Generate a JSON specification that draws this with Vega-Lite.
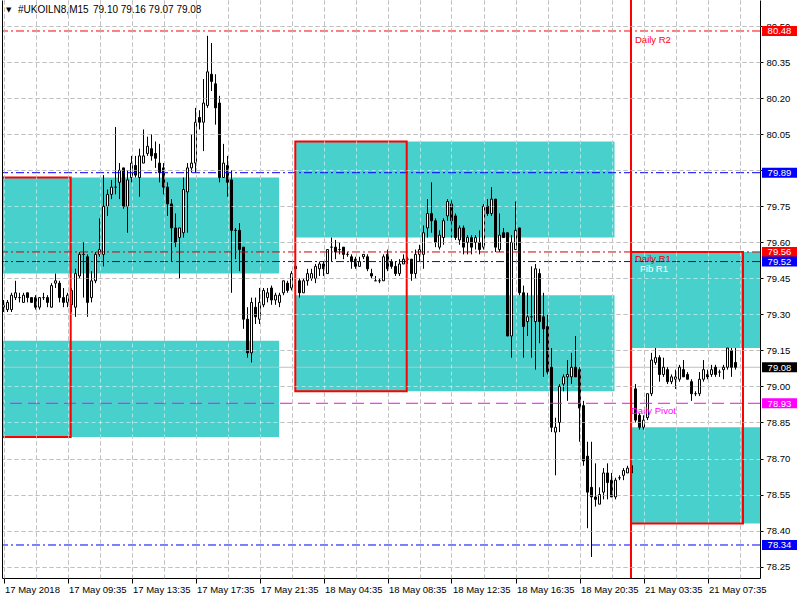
{
"$schema": "https://vega.github.io/schema/vega-lite/v6.json",
"width": 758, "height": 578,
"padding": {"left": 2, "top": 0, "right": 40, "bottom": 22},
"autosize": {"type": "none"},
"background": "white",
"config": {"view": {"stroke": null}, "font": "Liberation Sans", "text": {"font": "Liberation Sans", "fontSize": 9.5}},
"datasets": {
"bars": [
{"i":0,"o":79.33,"h":79.36,"l":79.31,"c":79.34},{"i":1,"o":79.32,"h":79.36,"l":79.31,"c":79.35},{"i":2,"o":79.32,"h":79.39,"l":79.31,"c":79.38},{"i":3,"o":79.37,"h":79.44,"l":79.36,"c":79.39},{"i":4,"o":79.37,"h":79.39,"l":79.35,"c":79.37},{"i":5,"o":79.35,"h":79.39,"l":79.35,"c":79.38},{"i":6,"o":79.39,"h":79.39,"l":79.35,"c":79.37},{"i":7,"o":79.37,"h":79.37,"l":79.35,"c":79.35},{"i":8,"o":79.37,"h":79.38,"l":79.32,"c":79.33},{"i":9,"o":79.33,"h":79.37,"l":79.32,"c":79.37},
{"i":10,"o":79.37,"h":79.39,"l":79.36,"c":79.37},{"i":11,"o":79.37,"h":79.38,"l":79.33,"c":79.35},{"i":12,"o":79.33,"h":79.43,"l":79.33,"c":79.42},{"i":13,"o":79.43,"h":79.47,"l":79.41,"c":79.44},{"i":14,"o":79.43,"h":79.44,"l":79.35,"c":79.37},{"i":15,"o":79.37,"h":79.41,"l":79.33,"c":79.35},{"i":16,"o":79.35,"h":79.39,"l":79.33,"c":79.38},{"i":17,"o":79.34,"h":79.41,"l":79.31,"c":79.40},{"i":18,"o":79.33,"h":79.49,"l":79.29,"c":79.47},{"i":19,"o":79.46,"h":79.56,"l":79.45,"c":79.55},
{"i":20,"o":79.55,"h":79.60,"l":79.37,"c":79.55},{"i":21,"o":79.54,"h":79.55,"l":79.29,"c":79.35},{"i":22,"o":79.37,"h":79.48,"l":79.35,"c":79.44},{"i":23,"o":79.44,"h":79.56,"l":79.43,"c":79.55},{"i":24,"o":79.55,"h":79.70,"l":79.54,"c":79.57},{"i":25,"o":79.55,"h":79.88,"l":79.50,"c":79.75},{"i":26,"o":79.75,"h":79.82,"l":79.71,"c":79.80},{"i":27,"o":79.80,"h":79.86,"l":79.78,"c":79.83},{"i":28,"o":79.83,"h":80.08,"l":79.80,"c":79.83},{"i":29,"o":79.85,"h":79.93,"l":79.78,"c":79.90},
{"i":30,"o":79.91,"h":79.91,"l":79.74,"c":79.75},{"i":31,"o":79.75,"h":79.90,"l":79.64,"c":79.86},{"i":32,"o":79.87,"h":79.96,"l":79.85,"c":79.93},{"i":33,"o":79.92,"h":79.96,"l":79.87,"c":79.88},{"i":34,"o":79.87,"h":79.99,"l":79.79,"c":79.96},{"i":35,"o":79.93,"h":80.07,"l":79.93,"c":79.96},{"i":36,"o":79.97,"h":80.04,"l":79.96,"c":80.00},{"i":37,"o":79.99,"h":80.05,"l":79.94,"c":79.96},{"i":38,"o":79.97,"h":80.02,"l":79.91,"c":79.95},{"i":39,"o":79.93,"h":80.01,"l":79.85,"c":79.89},
{"i":40,"o":79.91,"h":79.93,"l":79.80,"c":79.83},{"i":41,"o":79.83,"h":79.85,"l":79.71,"c":79.76},{"i":42,"o":79.76,"h":79.78,"l":79.52,"c":79.66},{"i":43,"o":79.66,"h":79.72,"l":79.58,"c":79.60},{"i":44,"o":79.62,"h":79.66,"l":79.45,"c":79.66},{"i":45,"o":79.64,"h":79.87,"l":79.62,"c":79.82},{"i":46,"o":79.81,"h":79.93,"l":79.64,"c":79.91},{"i":47,"o":79.91,"h":80.05,"l":79.89,"c":79.93},{"i":48,"o":79.93,"h":80.16,"l":79.89,"c":80.10},{"i":49,"o":80.12,"h":80.15,"l":80.07,"c":80.10},
{"i":50,"o":80.10,"h":80.28,"l":79.98,"c":80.18},{"i":51,"o":80.17,"h":80.46,"l":80.16,"c":80.31},{"i":52,"o":80.30,"h":80.43,"l":80.23,"c":80.27},{"i":53,"o":80.26,"h":80.30,"l":80.09,"c":80.16},{"i":54,"o":80.18,"h":80.21,"l":79.85,"c":79.87},{"i":55,"o":79.87,"h":80.01,"l":79.87,"c":79.93},{"i":56,"o":79.92,"h":79.96,"l":79.79,"c":79.85},{"i":57,"o":79.86,"h":79.90,"l":79.39,"c":79.65},{"i":58,"o":79.65,"h":79.66,"l":79.53,"c":79.65},{"i":59,"o":79.65,"h":79.68,"l":79.48,"c":79.57},
{"i":60,"o":79.58,"h":79.58,"l":79.24,"c":79.28},{"i":61,"o":79.28,"h":79.33,"l":79.12,"c":79.14},{"i":62,"o":79.14,"h":79.37,"l":79.10,"c":79.35},{"i":63,"o":79.33,"h":79.37,"l":79.26,"c":79.29},{"i":64,"o":79.28,"h":79.41,"l":79.26,"c":79.35},{"i":65,"o":79.34,"h":79.41,"l":79.33,"c":79.40},{"i":66,"o":79.37,"h":79.41,"l":79.35,"c":79.39},{"i":67,"o":79.41,"h":79.42,"l":79.34,"c":79.36},{"i":68,"o":79.36,"h":79.39,"l":79.34,"c":79.38},{"i":69,"o":79.35,"h":79.39,"l":79.33,"c":79.38},
{"i":70,"o":79.39,"h":79.44,"l":79.38,"c":79.44},{"i":71,"o":79.43,"h":79.44,"l":79.39,"c":79.40},{"i":72,"o":79.41,"h":79.48,"l":79.40,"c":79.47},{"i":73,"o":79.50,"h":79.51,"l":79.48,"c":79.49},{"i":74,"o":79.44,"h":79.45,"l":79.37,"c":79.39},{"i":75,"o":79.39,"h":79.45,"l":79.39,"c":79.44},{"i":76,"o":79.44,"h":79.49,"l":79.42,"c":79.47},{"i":77,"o":79.45,"h":79.49,"l":79.44,"c":79.47},{"i":78,"o":79.45,"h":79.51,"l":79.43,"c":79.50},{"i":79,"o":79.49,"h":79.52,"l":79.46,"c":79.51},
{"i":80,"o":79.51,"h":79.52,"l":79.46,"c":79.49},{"i":81,"o":79.47,"h":79.57,"l":79.47,"c":79.57},{"i":82,"o":79.58,"h":79.62,"l":79.52,"c":79.58},{"i":83,"o":79.58,"h":79.61,"l":79.53,"c":79.56},{"i":84,"o":79.57,"h":79.60,"l":79.55,"c":79.57},{"i":85,"o":79.58,"h":79.58,"l":79.53,"c":79.55},{"i":86,"o":79.55,"h":79.56,"l":79.54,"c":79.55},{"i":87,"o":79.54,"h":79.55,"l":79.49,"c":79.52},{"i":88,"o":79.53,"h":79.54,"l":79.49,"c":79.50},{"i":89,"o":79.50,"h":79.54,"l":79.50,"c":79.52},
{"i":90,"o":79.54,"h":79.55,"l":79.53,"c":79.55},{"i":91,"o":79.54,"h":79.55,"l":79.48,"c":79.49},{"i":92,"o":79.47,"h":79.49,"l":79.45,"c":79.46},{"i":93,"o":79.44,"h":79.46,"l":79.44,"c":79.44},{"i":94,"o":79.44,"h":79.45,"l":79.43,"c":79.44},{"i":95,"o":79.44,"h":79.55,"l":79.44,"c":79.54},{"i":96,"o":79.55,"h":79.57,"l":79.48,"c":79.49},{"i":97,"o":79.52,"h":79.53,"l":79.49,"c":79.50},{"i":98,"o":79.50,"h":79.52,"l":79.46,"c":79.47},{"i":99,"o":79.47,"h":79.53,"l":79.46,"c":79.51},
{"i":100,"o":79.51,"h":79.55,"l":79.51,"c":79.53},{"i":101,"o":79.53,"h":79.54,"l":79.51,"c":79.53},{"i":102,"o":79.53,"h":79.53,"l":79.44,"c":79.47},{"i":103,"o":79.47,"h":79.57,"l":79.45,"c":79.55},{"i":104,"o":79.55,"h":79.59,"l":79.52,"c":79.57},{"i":105,"o":79.55,"h":79.67,"l":79.49,"c":79.64},{"i":106,"o":79.66,"h":79.78,"l":79.62,"c":79.72},{"i":107,"o":79.72,"h":79.85,"l":79.64,"c":79.69},{"i":108,"o":79.69,"h":79.70,"l":79.58,"c":79.60},{"i":109,"o":79.58,"h":79.65,"l":79.57,"c":79.63},
{"i":110,"o":79.62,"h":79.70,"l":79.59,"c":79.69},{"i":111,"o":79.71,"h":79.78,"l":79.69,"c":79.77},{"i":112,"o":79.76,"h":79.78,"l":79.62,"c":79.69},{"i":113,"o":79.71,"h":79.72,"l":79.61,"c":79.62},{"i":114,"o":79.61,"h":79.67,"l":79.59,"c":79.66},{"i":115,"o":79.66,"h":79.67,"l":79.55,"c":79.58},{"i":116,"o":79.60,"h":79.63,"l":79.55,"c":79.62},{"i":117,"o":79.62,"h":79.63,"l":79.55,"c":79.58},{"i":118,"o":79.60,"h":79.63,"l":79.57,"c":79.62},{"i":119,"o":79.60,"h":79.65,"l":79.55,"c":79.57},
{"i":120,"o":79.58,"h":79.76,"l":79.57,"c":79.75},{"i":121,"o":79.75,"h":79.78,"l":79.71,"c":79.72},{"i":122,"o":79.72,"h":79.83,"l":79.71,"c":79.78},{"i":123,"o":79.78,"h":79.78,"l":79.56,"c":79.58},{"i":124,"o":79.57,"h":79.72,"l":79.56,"c":79.63},{"i":125,"o":79.64,"h":79.66,"l":79.62,"c":79.62},{"i":126,"o":79.64,"h":79.64,"l":79.21,"c":79.21},{"i":127,"o":79.21,"h":79.63,"l":79.12,"c":79.60},{"i":128,"o":79.57,"h":79.77,"l":79.57,"c":79.65},{"i":129,"o":79.66,"h":79.66,"l":79.38,"c":79.39},
{"i":130,"o":79.39,"h":79.42,"l":79.12,"c":79.25},{"i":131,"o":79.27,"h":79.39,"l":79.21,"c":79.29},{"i":132,"o":79.29,"h":79.50,"l":79.12,"c":79.29},{"i":133,"o":79.27,"h":79.51,"l":79.07,"c":79.49},{"i":134,"o":79.47,"h":79.49,"l":79.18,"c":79.27},{"i":135,"o":79.29,"h":79.39,"l":79.04,"c":79.24},{"i":136,"o":79.25,"h":79.30,"l":79.05,"c":79.06},{"i":137,"o":79.08,"h":79.16,"l":78.81,"c":78.83},{"i":138,"o":78.81,"h":78.87,"l":78.63,"c":78.83},{"i":139,"o":78.85,"h":79.01,"l":78.81,"c":79.00},
{"i":140,"o":79.01,"h":79.05,"l":78.98,"c":79.04},{"i":141,"o":79.04,"h":79.11,"l":78.94,"c":79.05},{"i":142,"o":79.04,"h":79.14,"l":79.01,"c":79.08},{"i":143,"o":79.08,"h":79.21,"l":79.04,"c":79.04},{"i":144,"o":79.07,"h":79.08,"l":78.77,"c":78.91},{"i":145,"o":78.92,"h":78.94,"l":78.67,"c":78.69},{"i":146,"o":78.71,"h":78.77,"l":78.41,"c":78.56},{"i":147,"o":78.58,"h":78.77,"l":78.29,"c":78.54},{"i":148,"o":78.54,"h":78.68,"l":78.50,"c":78.53},{"i":149,"o":78.51,"h":78.58,"l":78.51,"c":78.55},
{"i":150,"o":78.56,"h":78.66,"l":78.53,"c":78.64},{"i":151,"o":78.64,"h":78.68,"l":78.53,"c":78.60},{"i":152,"o":78.61,"h":78.64,"l":78.54,"c":78.54},{"i":153,"o":78.54,"h":78.62,"l":78.53,"c":78.61},{"i":154,"o":78.62,"h":78.63,"l":78.61,"c":78.62},{"i":155,"o":78.63,"h":78.66,"l":78.61,"c":78.65},{"i":156,"o":78.64,"h":78.67,"l":78.64,"c":78.66},{"i":157,"o":78.67,"h":78.67,"l":78.63,"c":78.64},{"i":158,"o":78.99,"h":79.01,"l":78.85,"c":78.86},{"i":159,"o":78.88,"h":78.89,"l":78.82,"c":78.83},
{"i":160,"o":78.83,"h":78.88,"l":78.82,"c":78.86},{"i":161,"o":78.87,"h":78.97,"l":78.86,"c":78.97},{"i":162,"o":78.97,"h":79.14,"l":78.96,"c":79.11},{"i":163,"o":79.10,"h":79.16,"l":79.09,"c":79.12},{"i":164,"o":79.12,"h":79.13,"l":79.02,"c":79.05},{"i":165,"o":79.05,"h":79.12,"l":79.04,"c":79.08},{"i":166,"o":79.07,"h":79.08,"l":79.01,"c":79.02},{"i":167,"o":79.02,"h":79.05,"l":79.01,"c":79.04},{"i":168,"o":79.03,"h":79.07,"l":78.99,"c":79.04},{"i":169,"o":79.03,"h":79.09,"l":79.02,"c":79.08},
{"i":170,"o":79.07,"h":79.11,"l":79.04,"c":79.04},{"i":171,"o":79.05,"h":79.06,"l":79.03,"c":79.03},{"i":172,"o":79.02,"h":79.03,"l":78.94,"c":78.97},{"i":173,"o":78.97,"h":78.98,"l":78.96,"c":78.97},{"i":174,"o":78.97,"h":79.06,"l":78.96,"c":79.03},{"i":175,"o":79.03,"h":79.11,"l":79.02,"c":79.07},{"i":176,"o":79.05,"h":79.07,"l":79.03,"c":79.04},{"i":177,"o":79.05,"h":79.09,"l":79.04,"c":79.07},{"i":178,"o":79.08,"h":79.09,"l":79.04,"c":79.05},{"i":179,"o":79.06,"h":79.07,"l":79.04,"c":79.06},
{"i":180,"o":79.07,"h":79.09,"l":79.03,"c":79.08},{"i":181,"o":79.08,"h":79.16,"l":79.07,"c":79.16},{"i":182,"o":79.15,"h":79.16,"l":79.04,"c":79.08},{"i":183,"o":79.10,"h":79.16,"l":79.07,"c":79.08}
],
"zones": [
{"x1":-10,"x2":68.9,"top":79.87,"bottom":79.47},
{"x1":-10,"x2":68.9,"top":79.19,"bottom":78.79},
{"x1":72.9,"x2":152.75,"top":80.02,"bottom":79.62},
{"x1":72.9,"x2":152.75,"top":79.38,"bottom":78.98},
{"x1":156.9,"x2":200,"top":79.56,"bottom":79.16},
{"x1":156.9,"x2":200,"top":78.83,"bottom":78.43}
],
"ranges": [
{"x1":-10,"x2":16.8,"hi":79.87,"lo":78.79},
{"x1":72.95,"x2":100.8,"hi":80.02,"lo":78.98},
{"x1":156.9,"x2":184.875,"hi":79.56,"lo":78.43}
],
"separators": [{"i":156.875}],
"levels": [
{"name":"Daily R2","p":80.48},{"name":"Fib R2","p":79.89},{"name":"Daily R1","p":79.56},{"name":"Fib R1","p":79.52},{"name":"Bid","p":79.08},{"name":"Daily Pivot","p":78.93},{"name":"Fib S1","p":78.34}
],
"header": [{"symbol":"#UKOILN8,M15","ohlc":"79.10 79.16 79.07 79.08"}]
},
"layer": [
{"data":{"name":"zones"},"mark":{"type":"rect","color":"#48D1CC","clip":true},
 "encoding":{
  "x":{"field":"x1","type":"quantitative","scale":{"domain":[-0.375,189.125],"nice":false,"zero":false,"padding":0},
   "axis":{"orient":"bottom","title":null,"values":[0,8,16,24,32,40,48,56,64,72,80,88,96,104,112,120,128,136,144,152,160,168,176,184],
    "grid":true,"gridColor":"#818181","gridDash":[4,3],"gridWidth":1,"domain":true,"domainColor":"black","domainWidth":1,
    "ticks":true,"tickSize":5,"tickWidth":1,"tickColor":{"condition":{"test":"datum.value % 16 === 0","value":"black"},"value":"transparent"},
    "labelExpr":"datum.value % 16 === 0 ? ['17 May 2018','17 May 09:35','17 May 13:35','17 May 17:35','17 May 21:35','18 May 04:35','18 May 08:35','18 May 12:35','18 May 16:35','18 May 20:35','21 May 03:35','21 May 07:35'][datum.value / 16] : ''",
    "labelAlign":"left","labelBaseline":"top","labelPadding":1,"labelOffset":1,"labelFlush":false,"labelOverlap":false,
    "labelFont":"Liberation Sans","labelFontSize":9.5,"labelColor":"black","zindex":0}},
  "x2":{"field":"x2"},
  "y":{"field":"top","type":"quantitative","scale":{"domain":[78.2026,80.609],"nice":false,"zero":false,"padding":0},
   "axis":{"orient":"right","title":null,"values":[78.25,78.4,78.55,78.7,78.85,79.0,79.15,79.3,79.45,79.6,79.75,79.9,80.05,80.2,80.35,80.5],
    "labelExpr":"abs(datum.value - 79.9) < 0.001 ? '' : format(datum.value, '.2f')",
    "grid":true,"gridColor":"#818181","gridDash":[4,3],"gridWidth":1,"domain":true,"domainColor":"black",
    "ticks":true,"tickSize":3,"tickColor":"black","labelPadding":3,"labelFont":"Liberation Sans","labelFontSize":9.5,"labelColor":"black",
    "labelBaseline":"middle","labelFlush":false,"labelOverlap":false,"zindex":0}},
  "y2":{"field":"bottom"}}},
{"data":{"name":"levels"},"transform":[{"filter":"datum.name === 'Bid'"}],
 "mark":{"type":"rule","color":"#C0C0C0","strokeWidth":1},
 "encoding":{"y":{"field":"p","type":"quantitative","scale":{"domain":[78.2026,80.609],"nice":false,"zero":false,"padding":0},"axis":null}}},
{"data":{"name":"bars"},"mark":{"type":"rule","color":"black","strokeWidth":1},
 "encoding":{
  "x":{"field":"i","type":"quantitative","scale":{"domain":[-0.375,189.125],"nice":false,"zero":false,"padding":0},"axis":null},
  "y":{"field":"l","type":"quantitative","scale":{"domain":[78.2026,80.609],"nice":false,"zero":false,"padding":0},"axis":null},
  "y2":{"field":"h"}}},
{"data":{"name":"bars"},"mark":{"type":"bar","width":2,"stroke":"black","strokeWidth":1},
 "encoding":{
  "x":{"field":"i","type":"quantitative","scale":{"domain":[-0.375,189.125],"nice":false,"zero":false,"padding":0},"axis":null},
  "y":{"field":"o","type":"quantitative","scale":{"domain":[78.2026,80.609],"nice":false,"zero":false,"padding":0},"axis":null},
  "y2":{"field":"c"},
  "fill":{"condition":{"test":"datum.c > datum.o","value":"white"},"value":"black"}}},
{"data":{"name":"levels"},"transform":[{"filter":"datum.name !== 'Bid'"}],
 "mark":{"type":"rule","strokeWidth":1},
 "encoding":{
  "y":{"field":"p","type":"quantitative","scale":{"domain":[78.2026,80.609],"nice":false,"zero":false,"padding":0},"axis":null},
  "stroke":{"field":"name","type":"nominal","legend":null,"scale":{"domain":["Daily R2","Fib R2","Daily R1","Fib R1","Daily Pivot","Fib S1"],"range":["#FF0000","#0000FF","#D00000","#0000FF","#FF00FF","#0000FF"]}},
  "strokeDash":{"field":"name","type":"nominal","legend":null,"scale":{"domain":["Daily R2","Fib R2","Daily R1","Fib R1","Daily Pivot","Fib S1"],"range":[[8,3,2,3],[8,3,2,3],[8,3,2,3],[8,3,2,3],[12,6],[8,3,2,3]]}}}},
{"data":{"name":"separators"},"mark":{"type":"rule","color":"#FF0000","strokeWidth":2},
 "encoding":{"x":{"field":"i","type":"quantitative","scale":{"domain":[-0.375,189.125],"nice":false,"zero":false,"padding":0},"axis":null}}},
{"data":{"name":"ranges"},"mark":{"type":"rect","filled":false,"color":"#FF0000","strokeWidth":2,"clip":true},
 "encoding":{
  "x":{"field":"x1","type":"quantitative","scale":{"domain":[-0.375,189.125],"nice":false,"zero":false,"padding":0},"axis":null},
  "x2":{"field":"x2"},
  "y":{"field":"hi","type":"quantitative","scale":{"domain":[78.2026,80.609],"nice":false,"zero":false,"padding":0},"axis":null},
  "y2":{"field":"lo"}}},
{"data":{"name":"levels"},"transform":[{"filter":"datum.name === 'Daily R2'"}],
 "mark":{"type":"text","align":"left","baseline":"middle","dy":9,"color":"#FF0000","fontSize":9.5},
 "encoding":{"x":{"datum":157.875,"type":"quantitative","scale":{"domain":[-0.375,189.125],"nice":false,"zero":false,"padding":0},"axis":null},
  "y":{"field":"p","type":"quantitative","scale":{"domain":[78.2026,80.609],"nice":false,"zero":false,"padding":0},"axis":null},"text":{"field":"name"}}},
{"data":{"name":"levels"},"transform":[{"filter":"datum.name === 'Daily R1'"}],
 "mark":{"type":"text","align":"left","baseline":"middle","dy":7.5,"color":"#E00000","fontSize":9.5},
 "encoding":{"x":{"datum":157.875,"type":"quantitative","scale":{"domain":[-0.375,189.125],"nice":false,"zero":false,"padding":0},"axis":null},
  "y":{"field":"p","type":"quantitative","scale":{"domain":[78.2026,80.609],"nice":false,"zero":false,"padding":0},"axis":null},"text":{"field":"name"}}},
{"data":{"name":"levels"},"transform":[{"filter":"datum.name === 'Fib R1'"}],
 "mark":{"type":"text","align":"left","baseline":"middle","dy":7.5,"color":"white","fontSize":9.5},
 "encoding":{"x":{"datum":159.125,"type":"quantitative","scale":{"domain":[-0.375,189.125],"nice":false,"zero":false,"padding":0},"axis":null},
  "y":{"field":"p","type":"quantitative","scale":{"domain":[78.2026,80.609],"nice":false,"zero":false,"padding":0},"axis":null},"text":{"field":"name"}}},
{"data":{"name":"levels"},"transform":[{"filter":"datum.name === 'Daily Pivot'"}],
 "mark":{"type":"text","align":"left","baseline":"middle","dy":8,"color":"#FF00FF","fontSize":9.5},
 "encoding":{"x":{"datum":156.875,"type":"quantitative","scale":{"domain":[-0.375,189.125],"nice":false,"zero":false,"padding":0},"axis":null},
  "y":{"field":"p","type":"quantitative","scale":{"domain":[78.2026,80.609],"nice":false,"zero":false,"padding":0},"axis":null},"text":{"field":"name"}}},
{"data":{"name":"levels"},
 "mark":{"type":"tick","orient":"horizontal","size":35,"thickness":10,"opacity":1},
 "encoding":{"x":{"datum":194.0,"type":"quantitative","scale":{"domain":[-0.375,189.125],"nice":false,"zero":false,"padding":0},"axis":null},
  "y":{"field":"p","type":"quantitative","scale":{"domain":[78.2026,80.609],"nice":false,"zero":false,"padding":0},"axis":null},
  "fill":{"field":"name","type":"nominal","legend":null,"scale":{"domain":["Daily R2","Fib R2","Daily R1","Fib R1","Bid","Daily Pivot","Fib S1"],"range":["#FF0000","#0000FF","#FF0000","#0000FF","#000000","#FF00FF","#0000FF"]}}}},
{"data":{"name":"levels"},
 "mark":{"type":"text","align":"center","baseline":"middle","dy":0.5,"color":"white","fontSize":9.5},
 "encoding":{"x":{"datum":194.0,"type":"quantitative","scale":{"domain":[-0.375,189.125],"nice":false,"zero":false,"padding":0},"axis":null},
  "y":{"field":"p","type":"quantitative","scale":{"domain":[78.2026,80.609],"nice":false,"zero":false,"padding":0},"axis":null},
  "text":{"field":"p","type":"quantitative","format":".2f"}}},
{"data":{"name":"header"},
 "mark":{"type":"text","align":"left","baseline":"middle","color":"black","font":"DejaVu Sans","fontSize":7},
 "encoding":{"x":{"datum":0.625,"type":"quantitative","scale":{"domain":[-0.375,189.125],"nice":false,"zero":false,"padding":0},"axis":null},
  "y":{"datum":80.566,"type":"quantitative","scale":{"domain":[78.2026,80.609],"nice":false,"zero":false,"padding":0},"axis":null},
  "text":{"value":"▼"}}},
{"data":{"name":"header"},
 "mark":{"type":"text","align":"left","baseline":"middle","color":"black","fontSize":10},
 "encoding":{"x":{"datum":3.625,"type":"quantitative","scale":{"domain":[-0.375,189.125],"nice":false,"zero":false,"padding":0},"axis":null},
  "y":{"datum":80.567,"type":"quantitative","scale":{"domain":[78.2026,80.609],"nice":false,"zero":false,"padding":0},"axis":null},
  "text":{"field":"symbol"}}},
{"data":{"name":"header"},
 "mark":{"type":"text","align":"left","baseline":"middle","color":"black","fontSize":10},
 "encoding":{"x":{"datum":22.375,"type":"quantitative","scale":{"domain":[-0.375,189.125],"nice":false,"zero":false,"padding":0},"axis":null},
  "y":{"datum":80.567,"type":"quantitative","scale":{"domain":[78.2026,80.609],"nice":false,"zero":false,"padding":0},"axis":null},
  "text":{"field":"ohlc"}}},
{"data":{"name":"bars"},"mark":{"type":"point","opacity":0},
 "encoding":{
  "x":{"field":"i","type":"quantitative","scale":{"domain":[-0.375,189.125],"nice":false,"zero":false,"padding":0},
   "axis":{"orient":"top","title":null,"values":[0,8,16,24,32,40,48,56,64,72,80,88,96,104,112,120,128,136,144,152,160,168,176,184],
    "grid":true,"gridColor":"white","gridOpacity":0.5,"gridDash":[4,3],"labels":false,"ticks":false,"domain":false,"zindex":1}},
  "y":{"field":"c","type":"quantitative","scale":{"domain":[78.2026,80.609],"nice":false,"zero":false,"padding":0},
   "axis":{"orient":"left","title":null,"values":[78.25,78.4,78.55,78.7,78.85,79.0,79.15,79.3,79.45,79.6,79.75,79.9,80.05,80.2,80.35,80.5],
    "grid":true,"gridColor":"white","gridOpacity":0.5,"gridDash":[4,3],"gridDashOffset":2,"labels":false,"ticks":false,"domain":true,"domainColor":"black","domainWidth":1,"zindex":1}}}}
],
"resolve":{"axis":{"x":"independent","y":"independent"}}
}
